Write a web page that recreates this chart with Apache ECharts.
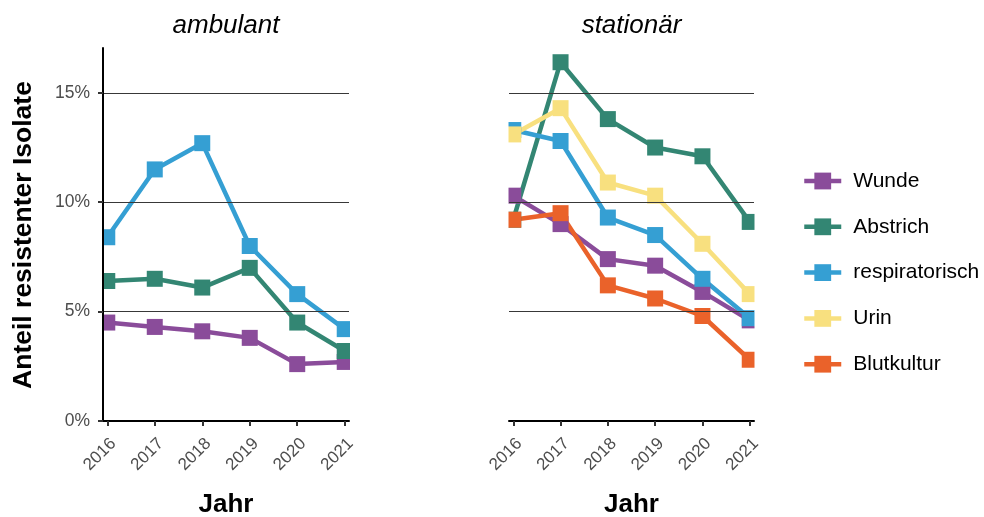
<!DOCTYPE html>
<html>
<head>
<meta charset="utf-8">
<script src="https://cdn.jsdelivr.net/npm/echarts@6/dist/echarts.min.js"></script>
<style>
  html, body { margin: 0; padding: 0; background: #fff; }
  #chart { width: 984px; height: 517px; }
</style>
</head>
<body>
<div id="chart"></div>
<script>
// Categories
const years = [2016, 2017, 2018, 2019, 2020, 2021];
const panels = ['ambulant', 'stationär'];
const groups = ['Wunde', 'Abstrich', 'respiratorisch', 'Urin', 'Blutkultur'];
const yTicks = [0, 5, 10, 15];

// Share of resistant isolates (%) per year
const ambulantWunde = [4.5, 4.3, 4.1, 3.8, 2.6, 2.7];
const ambulantAbstrich = [6.4, 6.5, 6.1, 7.0, 4.5, 3.2];
const ambulantRespiratorisch = [8.4, 11.5, 12.7, 8.0, 5.8, 4.2];

const stationaerWunde = [10.3, 9.0, 7.4, 7.1, 5.9, 4.6];
const stationaerAbstrich = [9.2, 16.4, 13.8, 12.5, 12.1, 9.1];
const stationaerRespiratorisch = [13.3, 12.8, 9.3, 8.5, 6.5, 4.7];
const stationaerUrin = [13.1, 14.3, 10.9, 10.3, 8.1, 5.8];
const stationaerBlutkultur = [9.2, 9.5, 6.2, 5.6, 4.8, 2.8];

const groupColors = {
  'Wunde': '#8a4c9a',
  'Abstrich': '#338673',
  'respiratorisch': '#359fd3',
  'Urin': '#f8e07f',
  'Blutkultur': '#ea622a'
};

const FONT = 'Liberation Sans, Arial, Helvetica, sans-serif';
const AXIS_TEXT = '#4d4d4d';
const LINE_W = 4.5;

const panelSeries = [
  { panel: 0, name: 'Wunde', values: ambulantWunde },
  { panel: 0, name: 'Abstrich', values: ambulantAbstrich },
  { panel: 0, name: 'respiratorisch', values: ambulantRespiratorisch },
  { panel: 1, name: 'Wunde', values: stationaerWunde },
  { panel: 1, name: 'Abstrich', values: stationaerAbstrich },
  { panel: 1, name: 'respiratorisch', values: stationaerRespiratorisch },
  { panel: 1, name: 'Urin', values: stationaerUrin },
  { panel: 1, name: 'Blutkultur', values: stationaerBlutkultur }
];

const grids = [
  { left: 103, top: 48, width: 246, height: 373 },
  { left: 509, top: 48, width: 245, height: 373 }
];

const xAxes = grids.map((g, i) => ({
  gridIndex: i,
  type: 'value',
  min: 2015.91,
  max: 2021.09,
  z: 20,
  axisLine: { show: true, onZero: false, lineStyle: { color: '#000', width: 2 } },
  axisTick: { show: true, customValues: years, length: 5, lineStyle: { color: '#333', width: 2 } },
  axisLabel: {
    customValues: years, rotate: 45, margin: 14,
    align: 'right', verticalAlign: 'top',
    color: AXIS_TEXT, fontSize: 17, fontFamily: FONT,
    formatter: v => String(v)
  },
  splitLine: { show: false }
}));

const yAxes = grids.map((g, i) => ({
  gridIndex: i,
  type: 'value',
  min: 0,
  max: 17.05,
  interval: 5,
  z: 20,
  axisLine: { show: i === 0, lineStyle: { color: '#000', width: 2 } },
  axisTick: { show: i === 0, customValues: yTicks, length: 5, lineStyle: { color: '#333', width: 2 } },
  axisLabel: {
    show: i === 0, customValues: yTicks, margin: 13,
    color: AXIS_TEXT, fontSize: 17.5, fontFamily: FONT,
    formatter: '{value}%'
  },
  splitLine: {
    show: true, showMinLine: false, showMaxLine: true,
    lineStyle: { color: '#383838', width: 1 }
  }
}));

const series = panelSeries.map(s => ({
  type: 'line',
  name: s.name,
  xAxisIndex: s.panel,
  yAxisIndex: s.panel,
  data: years.map((yr, k) => [yr, s.values[k]]),
  symbol: 'rect',
  symbolSize: 16,
  showSymbol: true,
  clip: false,
  z: 2,
  lineStyle: { width: LINE_W, color: groupColors[s.name] },
  itemStyle: { color: groupColors[s.name] },
  emphasis: { disabled: true }
}));

// white strips that trim markers at the panel edges
const masks = [
  [94, 102], [350, 358], [500, 508.5], [754.5, 763]
].map(([x0, x1]) => ({
  type: 'rect', z: 5, silent: true,
  shape: { x: x0, y: 40, width: x1 - x0, height: 379 },
  style: { fill: '#fff' }
}));

const texts = [
  { type: 'text', x: 226, y: 25.5, style: { text: panels[0], font: `italic 26px ${FONT}`, fill: '#000', align: 'center', verticalAlign: 'middle' } },
  { type: 'text', x: 631.5, y: 25.5, style: { text: panels[1], font: `italic 26px ${FONT}`, fill: '#000', align: 'center', verticalAlign: 'middle' } },
  { type: 'text', x: 226, y: 505, style: { text: 'Jahr', font: `bold 26px ${FONT}`, fill: '#000', align: 'center', verticalAlign: 'middle' } },
  { type: 'text', x: 631.5, y: 505, style: { text: 'Jahr', font: `bold 26px ${FONT}`, fill: '#000', align: 'center', verticalAlign: 'middle' } },
  { type: 'text', x: 24, y: 235, rotation: Math.PI / 2, style: { text: 'Anteil resistenter Isolate', font: `bold 26.5px ${FONT}`, fill: '#000', align: 'center', verticalAlign: 'middle' } }
].map(t => Object.assign({ z: 30, silent: true }, t));

const chart = echarts.init(document.getElementById('chart'), null, { renderer: 'canvas' });
chart.setOption({
  animation: false,
  backgroundColor: '#fff',
  grid: grids.map(g => Object.assign({ containLabel: false, outerBoundsMode: 'none' }, g)),
  xAxis: xAxes,
  yAxis: yAxes,
  legend: {
    orient: 'vertical',
    left: 797,
    top: 165.5,
    itemWidth: 37,
    itemHeight: 21,
    itemGap: 24.8,
    selectedMode: false,
    data: groups,
    lineStyle: { width: LINE_W },
    textStyle: { fontSize: 21, color: '#000', fontFamily: FONT, padding: [0, 0, 0, 7] }
  },
  tooltip: { show: false },
  graphic: { elements: masks.concat(texts) },
  series: series
});
</script>
</body>
</html>
